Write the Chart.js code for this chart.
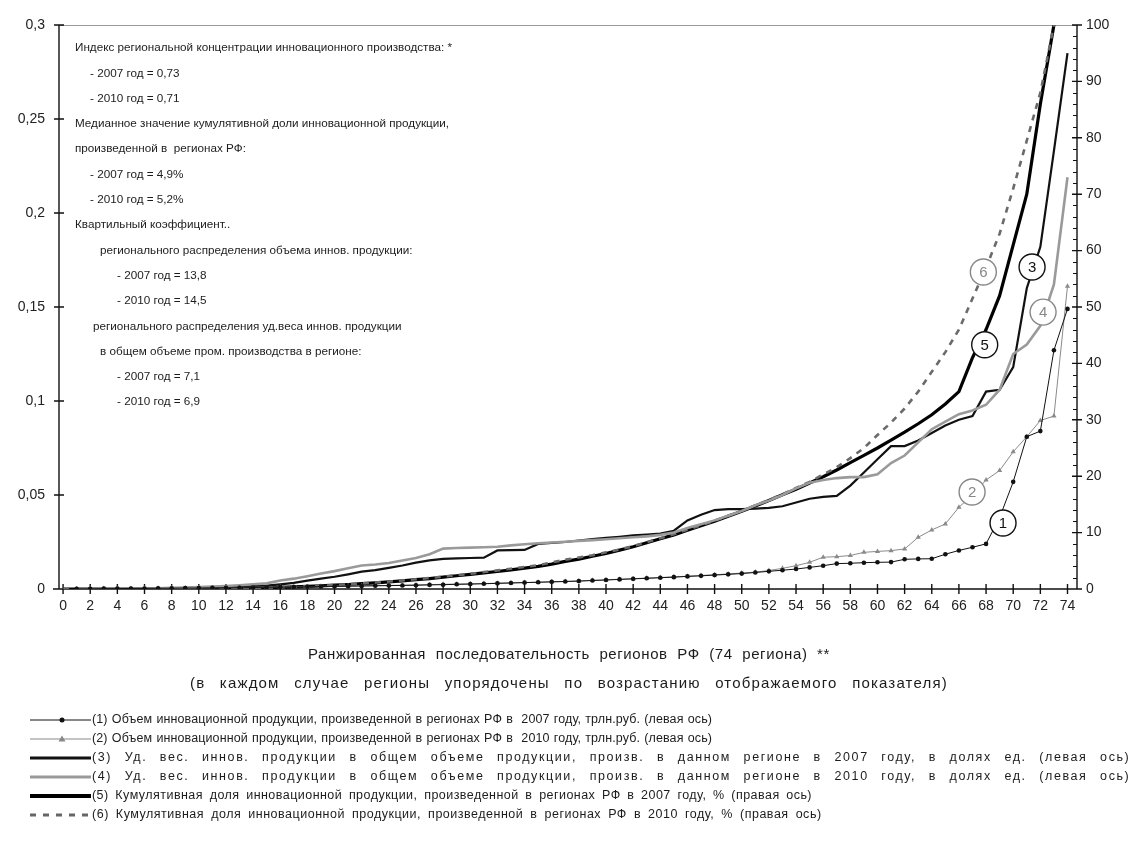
<!DOCTYPE html>
<html>
<head>
<meta charset="utf-8">
<script src="https://cdn.jsdelivr.net/npm/chart.js@4.4.0/dist/chart.umd.min.js"></script>
<style>
  html, body { margin: 0; padding: 0; background: #fff; }
  #wrap { width: 1136px; height: 848px; }
</style>
</head>
<body>
<div id="wrap"><canvas id="chart" width="1136" height="848"></canvas></div>
<script>
// ранги регионов (ось X)
const ranks = [1,2,3,4,5,6,7,8,9,10,11,12,13,14,15,16,17,18,19,20,21,22,23,24,25,26,27,28,29,30,31,32,33,34,35,36,37,38,39,40,41,42,43,44,45,46,47,48,49,50,51,52,53,54,55,56,57,58,59,60,61,62,63,64,65,66,67,68,69,70,71,72,73,74];
const cumRanks = [0,1,2,3,4,5,6,7,8,9,10,11,12,13,14,15,16,17,18,19,20,21,22,23,24,25,26,27,28,29,30,31,32,33,34,35,36,37,38,39,40,41,42,43,44,45,46,47,48,49,50,51,52,53,54,55,56,57,58,59,60,61,62,63,64,65,66,67,68,69,70,71,72,73];
const xTicks = [0,2,4,6,8,10,12,14,16,18,20,22,24,26,28,30,32,34,36,38,40,42,44,46,48,50,52,54,56,58,60,62,64,66,68,70,72,74];
const leftTicks = [0, 0.05, 0.1, 0.15, 0.2, 0.25, 0.3];
const rightTicks = [0,10,20,30,40,50,60,70,80,90,100];

// (1) объем инн. продукции 2007, трлн руб.
const vol2007 = [0.0001,0.0001,0.0002,0.0002,0.0003,0.0003,0.0004,0.0004,0.0005,0.0005,
  0.0006,0.0007,0.0007,0.0008,0.0009,0.0010,0.0011,0.0012,0.0013,0.0014,
  0.0015,0.0016,0.0017,0.0018,0.0019,0.0020,0.0022,0.0023,0.0025,0.0026,
  0.0028,0.0030,0.0032,0.0034,0.0036,0.0038,0.0040,0.0042,0.0045,0.0048,
  0.0051,0.0054,0.0057,0.0060,0.0063,0.0067,0.0070,0.0074,0.0078,0.0082,
  0.0088,0.0094,0.0100,0.0106,0.0115,0.0124,0.0135,0.0137,0.0140,0.0142,
  0.0143,0.0158,0.0160,0.0161,0.0185,0.0205,0.0222,0.0240,0.0380,0.0570,
  0.0810,0.0840,0.1270,0.1490];
// (2) объем инн. продукции 2010, трлн руб.
const vol2010 = [0.0001,0.0001,0.0002,0.0002,0.0003,0.0003,0.0004,0.0005,0.0005,0.0006,
  0.0007,0.0008,0.0008,0.0009,0.0010,0.0011,0.0012,0.0013,0.0014,0.0015,
  0.0016,0.0017,0.0018,0.0019,0.0020,0.0022,0.0023,0.0025,0.0026,0.0028,
  0.0029,0.0031,0.0033,0.0034,0.0036,0.0038,0.0040,0.0043,0.0046,0.0049,
  0.0052,0.0055,0.0058,0.0061,0.0065,0.0068,0.0072,0.0076,0.0080,0.0085,
  0.0090,0.0098,0.0110,0.0124,0.0142,0.0169,0.0172,0.0178,0.0195,0.0200,
  0.0204,0.0213,0.0275,0.0314,0.0346,0.0435,0.0500,0.0580,0.0630,0.0730,
  0.0810,0.0896,0.0920,0.1610];
// (3) уд. вес 2007, доли ед.
const share2007 = [0,0,0,0,0.0001,0.0002,0.0003,0.0004,0.0005,0.0006,
  0.0008,0.0010,0.0012,0.0015,0.0018,0.0025,0.0033,0.0045,0.0055,0.0065,
  0.0078,0.0092,0.0100,0.0112,0.0125,0.0140,0.0152,0.0160,0.0163,0.0165,
  0.0167,0.0205,0.0207,0.0208,0.0240,0.0245,0.0250,0.0258,0.0265,0.0272,
  0.0278,0.0285,0.0290,0.0295,0.0310,0.0365,0.0395,0.0420,0.0425,0.0425,
  0.0428,0.0432,0.0440,0.0460,0.0480,0.0490,0.0495,0.0550,0.0620,0.0690,
  0.0760,0.0760,0.0790,0.0830,0.0870,0.0900,0.0920,0.1050,0.1060,0.1180,
  0.1600,0.1820,0.2330,0.2850];
// (4) уд. вес 2010, доли ед.
const share2010 = [0,0,0,0.0001,0.0002,0.0003,0.0004,0.0006,0.0008,0.0010,
  0.0013,0.0016,0.0020,0.0025,0.0030,0.0045,0.0055,0.0068,0.0082,0.0095,
  0.0110,0.0125,0.0130,0.0138,0.0152,0.0165,0.0185,0.0215,0.0218,0.0220,
  0.0222,0.0225,0.0232,0.0238,0.0243,0.0247,0.0251,0.0256,0.0260,0.0265,
  0.0270,0.0275,0.0280,0.0288,0.0300,0.0325,0.0345,0.0365,0.0390,0.0415,
  0.0445,0.0470,0.0500,0.0535,0.0565,0.0580,0.0590,0.0595,0.0595,0.0610,
  0.0670,0.0710,0.0780,0.0850,0.0890,0.0930,0.0950,0.0980,0.1060,0.1250,
  0.1300,0.1400,0.1620,0.2190];
// (5) кумулятивная доля 2007, %
const cum2007 = [0,0,0,0,0,0,0.01,0.02,0.03,0.04,
  0.06,0.08,0.10,0.13,0.17,0.22,0.28,0.36,0.45,0.55,
  0.67,0.80,0.95,1.10,1.25,1.45,1.65,1.85,2.10,2.35,
  2.60,2.85,3.10,3.40,3.70,4.00,4.40,4.90,5.30,5.80,
  6.30,6.90,7.50,8.20,8.90,9.60,10.4,11.2,12.0,12.9,
  13.8,14.7,15.7,16.7,17.7,18.8,19.9,21.1,22.4,23.7,
  25.0,26.4,27.8,29.3,30.9,32.8,35.0,41.0,46.0,52.0,
  61.0,70.0,86.0,100];
// (6) кумулятивная доля 2010, %
const cum2010 = [0,0,0,0,0,0.01,0.02,0.03,0.04,0.05,
  0.07,0.09,0.12,0.15,0.19,0.24,0.30,0.38,0.47,0.57,
  0.70,0.84,0.99,1.15,1.32,1.52,1.73,1.95,2.20,2.45,
  2.70,3.00,3.30,3.60,3.90,4.20,4.70,5.20,5.60,6.00,
  6.50,7.00,7.60,8.30,9.00,9.70,10.5,11.3,12.1,13.0,
  13.9,14.8,15.8,16.8,17.9,19.0,20.3,21.6,23.2,25.0,
  27.3,29.5,32.0,35.0,38.5,42.0,46.0,51.5,57.0,63.0,
  71.0,79.5,88.0,100];

const legendLabels = [
  '(1) Объем инновационной продукции, произведенной в регионах РФ в  2007 году, трлн.руб. (левая ось)',
  '(2) Объем инновационной продукции, произведенной в регионах РФ в  2010 году, трлн.руб. (левая ось)',
  '(3) Уд. вес. иннов. продукции в общем объеме продукции, произв. в данном регионе в 2007 году, в долях ед. (левая ось)',
  '(4) Уд. вес. иннов. продукции в общем объеме продукции, произв. в данном регионе в 2010 году, в долях ед. (левая ось)',
  '(5) Кумулятивная доля инновационной продукции, произведенной в регионах РФ в 2007 году, % (правая ось)',
  '(6) Кумулятивная доля инновационной продукции, произведенной в регионах РФ в 2010 году, % (правая ось)'
];
const axisTitle = [
  'Ранжированная последовательность регионов РФ (74 региона) **',
  '(в каждом случае регионы упорядочены по возрастанию отображаемого показателя)'
];
const noteLines = [
  ['Индекс региональной концентрации инновационного производства: *', 0],
  ['- 2007 год = 0,73', 1],
  ['- 2010 год = 0,71', 1],
  ['Медианное значение кумулятивной доли инновационной продукции,', 0],
  ['произведенной в  регионах РФ:', 0],
  ['- 2007 год = 4,9%', 1],
  ['- 2010 год = 5,2%', 1],
  ['Квартильный коэффициент..', 0],
  ['регионального распределения объема иннов. продукции:', 2],
  ['- 2007 год = 13,8', 3],
  ['- 2010 год = 14,5', 3],
  ['регионального распределения уд.веса иннов. продукции', 4],
  ['в общем объеме пром. производства в регионе:', 2],
  ['- 2007 год = 7,1', 3],
  ['- 2010 год = 6,9', 3]
];
// номера кривых в кружках: [текст, x, значение по правой оси, цвет]
const circleTags = [
  ['1', 69.25, 11.7, '#111'],
  ['2', 66.97, 17.2, '#888'],
  ['3', 71.39, 57.1, '#111'],
  ['4', 72.2, 49.1, '#888'],
  ['5', 67.9, 43.3, '#111'],
  ['6', 67.8, 56.2, '#888']
];

const FONT = '"Liberation Sans", Arial, sans-serif';
const pts = (xs, ys) => ys.map((y, i) => ({ x: xs[i], y: y }));

// растягивает строку до нужной ширины: часть за счёт пробелов, часть за счёт букв
function fitText(ctx, text, x, y, width, align) {
  ctx.letterSpacing = '0px';
  ctx.wordSpacing = '0px';
  const w = ctx.measureText(text).width;
  const spaces = (text.match(/ /g) || []).length;
  let extra = width ? width - w : 0;
  if (extra < 0) extra = 0;
  const ws = spaces ? (extra * 0.45) / spaces : 0;
  const ls = (extra - ws * spaces) / text.length;
  ctx.wordSpacing = ws.toFixed(2) + 'px';
  ctx.letterSpacing = ls.toFixed(2) + 'px';
  const w2 = w + extra;
  const x0 = align === 'center' ? x - w2 / 2 : x;
  ctx.textAlign = 'left';
  if (width && w > width) ctx.fillText(text, x0, y, width);
  else ctx.fillText(text, x0, y);
  ctx.letterSpacing = '0px';
  ctx.wordSpacing = '0px';
}

const decor = {
  id: 'decor',
  beforeDatasetsDraw(chart) {
    const { ctx, chartArea: a, scales } = chart;
    const yl = scales.yL, yr = scales.yR, x = scales.x;
    ctx.save();
    ctx.lineCap = 'butt';
    // верхняя рамка
    ctx.strokeStyle = '#9a9a9a'; ctx.lineWidth = 1;
    ctx.beginPath(); ctx.moveTo(a.left, a.top + 0.5); ctx.lineTo(a.right, a.top + 0.5); ctx.stroke();
    ctx.strokeStyle = '#111'; ctx.lineWidth = 1.4;
    ctx.beginPath();
    ctx.moveTo(a.left, a.top); ctx.lineTo(a.left, a.bottom);
    ctx.moveTo(a.left - 6, a.bottom); ctx.lineTo(a.right, a.bottom);
    ctx.moveTo(a.right, a.top); ctx.lineTo(a.right, a.bottom);
    leftTicks.forEach(v => { const p = yl.getPixelForValue(v); ctx.moveTo(a.left - 5, p); ctx.lineTo(a.left + 5, p); });
    xTicks.forEach(v => { const p = x.getPixelForValue(v); ctx.moveTo(p, a.bottom - 5); ctx.lineTo(p, a.bottom + 5); });
    rightTicks.forEach(v => { const p = yr.getPixelForValue(v); ctx.moveTo(a.right - 5, p); ctx.lineTo(a.right + 5, p); });
    ctx.stroke();
    ctx.lineWidth = 1;
    ctx.beginPath();
    for (let v = 2; v < 100; v += 2) {
      if (v % 10 === 0) continue;
      const p = Math.round(yr.getPixelForValue(v)) + 0.5;
      ctx.moveTo(a.right - 4, p); ctx.lineTo(a.right, p);
    }
    ctx.stroke();
    ctx.restore();
  },
  afterDatasetsDraw(chart) {
    const { ctx, scales } = chart;
    ctx.save();
    circleTags.forEach(([t, xv, yv, c]) => {
      const px = scales.x.getPixelForValue(xv), py = scales.yR.getPixelForValue(yv);
      ctx.beginPath(); ctx.arc(px, py, 13, 0, Math.PI * 2);
      ctx.fillStyle = '#fff'; ctx.fill();
      ctx.strokeStyle = c; ctx.lineWidth = 1.4; ctx.stroke();
      ctx.fillStyle = c; ctx.font = '15px ' + FONT;
      ctx.textAlign = 'center'; ctx.textBaseline = 'middle';
      ctx.fillText(t, px, py + 1);
    });
    ctx.restore();
  },
  afterDraw(chart) {
    const { ctx } = chart;
    ctx.save();
    ctx.fillStyle = '#1c1c1c';
    ctx.textBaseline = 'middle';
    // пояснения в поле графика
    ctx.font = '11.7px ' + FONT;
    const indents = [75, 90, 100, 117, 93];
    noteLines.forEach(([t, ind], i) => {
      ctx.textAlign = 'left';
      ctx.fillText(t, indents[ind], 48 + i * 25.3);
    });
    // подпись оси X
    ctx.font = '15px ' + FONT;
    fitText(ctx, axisTitle[0], 569, 655, 522, 'center');
    fitText(ctx, axisTitle[1], 569, 684, 758, 'center');
    // легенда
    const rowY = [720, 739, 758, 777, 796, 815];
    const ends = [712, 712, 1130, 1130, 812, 822];
    ctx.font = '12.5px ' + FONT;
    legendLabels.forEach((t, i) => fitText(ctx, t, 92, rowY[i], ends[i] - 92, 'left'));
    // образцы линий
    const sx0 = 30, sx1 = 91;
    const line = (y, col, w, dash) => {
      ctx.save(); ctx.strokeStyle = col; ctx.lineWidth = w; ctx.setLineDash(dash || []);
      ctx.beginPath(); ctx.moveTo(sx0, y); ctx.lineTo(sx1, y); ctx.stroke(); ctx.restore();
    };
    line(rowY[0], '#111', 1);
    ctx.fillStyle = '#111'; ctx.beginPath(); ctx.arc(62, rowY[0], 2.5, 0, Math.PI * 2); ctx.fill();
    line(rowY[1], '#888', 1);
    ctx.fillStyle = '#888'; ctx.beginPath();
    ctx.moveTo(62, rowY[1] - 3.5); ctx.lineTo(65.5, rowY[1] + 2.5); ctx.lineTo(58.5, rowY[1] + 2.5); ctx.closePath(); ctx.fill();
    line(rowY[2], '#111', 3);
    line(rowY[3], '#999', 3);
    line(rowY[4], '#000', 4);
    line(rowY[5], '#666', 3, [6, 7]);
    ctx.restore();
  }
};

const ctx = document.getElementById('chart').getContext('2d');
new Chart(ctx, {
  type: 'line',
  data: {
    datasets: [
      { label: legendLabels[0], data: pts(ranks, vol2007), yAxisID: 'yL', order: 1,
        borderColor: '#111', borderWidth: 1, pointStyle: 'circle', pointRadius: 2.3,
        pointBackgroundColor: '#111', pointBorderWidth: 0 },
      { label: legendLabels[1], data: pts(ranks, vol2010), yAxisID: 'yL', order: 2,
        borderColor: '#8a8a8a', borderWidth: 1, pointStyle: 'triangle', pointRadius: 3,
        pointBackgroundColor: '#8a8a8a', pointBorderColor: '#8a8a8a', pointBorderWidth: 0 },
      { label: legendLabels[2], data: pts(ranks, share2007), yAxisID: 'yL', order: 4,
        borderColor: '#111', borderWidth: 2.2, pointRadius: 0 },
      { label: legendLabels[3], data: pts(ranks, share2010), yAxisID: 'yL', order: 3,
        borderColor: '#9a9a9a', borderWidth: 2.6, pointRadius: 0 },
      { label: legendLabels[4], data: pts(cumRanks, cum2007), yAxisID: 'yR', order: 6,
        borderColor: '#000', borderWidth: 3.2, pointRadius: 0 },
      { label: legendLabels[5], data: pts(cumRanks, cum2010), yAxisID: 'yR', order: 5,
        borderColor: '#6a6a6a', borderWidth: 2.6, borderDash: [6, 6], pointRadius: 0 }
    ]
  },
  options: {
    responsive: false,
    animation: false,
    layout: { padding: { top: 25, left: 0, right: 0, bottom: 0 } },
    elements: { line: { tension: 0 } },
    plugins: { legend: { display: false }, tooltip: { enabled: false } },
    scales: {
      x: {
        type: 'linear', min: -0.3, max: 74.7,
        afterBuildTicks: s => { s.ticks = xTicks.map(v => ({ value: v })); },
        afterFit: s => { s.height = 259; },
        grid: { display: false }, border: { display: false },
        ticks: { autoSkip: false, maxRotation: 0, padding: 1, color: '#222', font: { size: 14, family: FONT } }
      },
      yL: {
        position: 'left', min: 0, max: 0.3,
        afterBuildTicks: s => { s.ticks = leftTicks.map(v => ({ value: v })); },
        afterFit: s => { s.width = 59; },
        grid: { display: false }, border: { display: false },
        ticks: { padding: 6, color: '#222', font: { size: 14, family: FONT },
          callback: v => String(Math.round(v * 100) / 100).replace('.', ',') }
      },
      yR: {
        position: 'right', min: 0, max: 100,
        afterBuildTicks: s => { s.ticks = rightTicks.map(v => ({ value: v })); },
        afterFit: s => { s.width = 59; },
        grid: { display: false }, border: { display: false },
        ticks: { padding: 1, color: '#222', font: { size: 14, family: FONT } }
      }
    }
  },
  plugins: [decor]
});
</script>
</body>
</html>
